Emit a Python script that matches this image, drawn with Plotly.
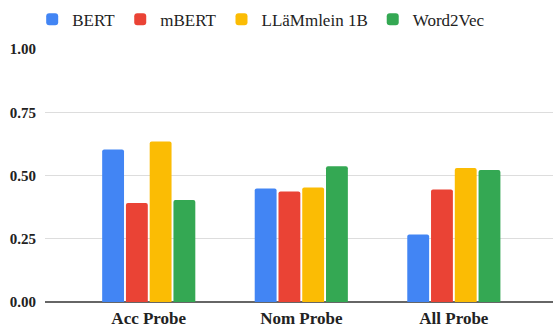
import plotly.graph_objects as go

categories = ["Acc Probe", "Nom Probe", "All Probe"]
series_names = ["BERT", "mBERT", "LLäMmlein 1B", "Word2Vec"]
bert = [0.603, 0.449, 0.267]
mbert = [0.391, 0.437, 0.445]
llammlein = [0.634, 0.453, 0.530]
word2vec = [0.403, 0.537, 0.522]
colors = ["#4285F4", "#EA4335", "#FBBC04", "#34A853"]
y_ticks = [0, 0.25, 0.5, 0.75, 1.0]
y_tick_labels = ["0.00", "0.25", "0.50", "0.75", "1.00"]

font_family = "Liberation Serif"

fig = go.Figure()
for name, vals, col in zip(series_names, [bert, mbert, llammlein, word2vec], colors):
    fig.add_trace(go.Bar(name=name, x=categories, y=vals,
                         marker=dict(color=col, line=dict(width=0), cornerradius=2)))

fig.update_layout(
    width=555, height=329,
    margin=dict(l=45, r=2, t=49, b=27, autoexpand=False),
    paper_bgcolor="white", plot_bgcolor="white",
    barmode="group", bargap=0.377, bargroupgap=0.08,
    font=dict(family=font_family, color="#222222"),
    showlegend=True,
    legend=dict(orientation="h", x=0.058, xref="container", xanchor="left",
                y=0.995, yref="container", yanchor="top",
                font=dict(size=17, family=font_family, color="#222222"),
                itemwidth=30, tracegroupgap=0, bgcolor="rgba(0,0,0,0)"),
    xaxis=dict(range=[-0.68, 2.65], showgrid=False, showline=False, ticks="",
               automargin=False, ticklabelstandoff=4,
               tickfont=dict(size=17, family=font_family, color="#222222", weight="bold")),
    yaxis=dict(range=[0, 1.0], tickvals=y_ticks, ticktext=y_tick_labels,
               showgrid=True, gridcolor="#dddddd", gridwidth=1,
               zeroline=True, zerolinecolor="#666666", zerolinewidth=1.5,
               showline=False, ticks="", ticklabelstandoff=8, automargin=False,
               tickfont=dict(size=15, family=font_family, color="#222222", weight="bold")),
)

fig.write_html("out.html", config={"displayModeBar": False},
               post_script="document.body.style.margin='0';document.body.style.overflow='hidden';")
